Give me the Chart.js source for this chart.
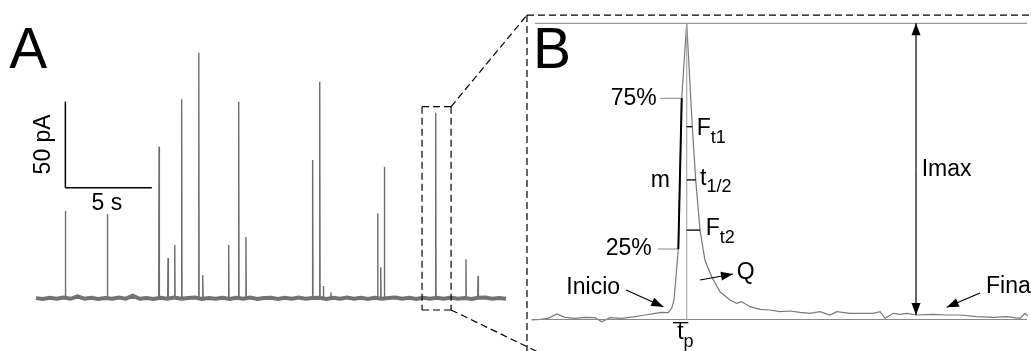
<!DOCTYPE html>
<html>
<head>
<meta charset="utf-8">
<script src="https://cdn.jsdelivr.net/npm/chart.js@4.4.1/dist/chart.umd.min.js"></script>
<style>
  html, body { margin: 0; padding: 0; background: #fff; }
  #wrap { width: 1031px; height: 351px; }
</style>
</head>
<body>
<div id="wrap"><canvas id="grafico" width="1031" height="351"></canvas></div>
<script>
// PANEL A: registro amperometrico (s, pA)
const tiemposEspigas = [1.70, 4.13, 7.12, 7.64, 8.03, 8.43, 9.42, 9.65, 11.15, 11.73, 12.15,
  16.01, 16.42, 16.63, 17.07, 19.77, 19.95, 20.16, 23.13, 24.88, 25.58];
const amplitudesEspigas = [50.8, 49.0, 88.1, 23.4, 31.0, 115.7, 142.8, 13.5, 31.0, 114.3, 35.6,
  80.4, 125.9, 7.2, 3.3, 49.4, 18.0, 76.5, 107.9, 22.7, 13.0];
const duracionRegistro = 27.2;
const ruidoBasal = [0.1, -0.4, 0.3, -0.2, 0.4, -0.3, 1.1, -0.2, 0.3, -0.4, 0.2, -0.3, 0.4, -0.2,
  1.5, -0.3, 0.2, -0.4, 0.3, -0.2, 0.4, -0.3, 0.2, 0.4, -0.4, 0.2, -0.3, 0.3, -0.4, 0.3, -0.2,
  0.4, -0.4, 0.2, 0.3, -0.4, 0.3, -0.2, 0.4, -0.3, 0.2, 0.3, -0.4, 0.3, -0.3, 0.4, -0.2, 0.3,
  -0.4, 0.3, -0.3, 0.2, 0.4, -0.3, 0.3, -0.4, 0.3, -0.2, 0.3, -0.3, 0.4, -0.3, 0.2, -0.4, 0.3,
  0.4, -0.3, 0.2, -0.3];

// PANEL B: espiga ampliada (ms, pA)
const tiempoEspigaB = [-0.7, 1.02, 2.70, 4.41, 6.10, 8.13, 10.16, 12.20, 13.56, 15.24, 17.62,
  20.33, 22.36, 24.39, 25.75, 27.09, 27.78, 28.25, 28.60, 29.13, 29.82, 30.83, 31.97, 32.66,
  33.54, 34.55, 35.91, 37.60, 39.63, 40.99, 42.01, 43.70, 45.73, 47.76, 49.80, 51.83, 53.86,
  55.89, 57.93, 59.96, 61.32, 64.02, 66.67, 68.76, 70.12, 71.14, 72.82, 74.19, 75.55, 77.58,
  80.96, 83.68, 86.38, 89.78, 93.15, 95.87, 98.58, 99.59, 100.2];
const corrienteEspigaB = [-0.18, 0.07, 0.44, 2.01, 0.80, 0.44, 0.80, 0.66, -0.80, 0.66, 0.44,
  1.02, 1.64, 2.26, 2.63, 2.48, 4.08, 7.11, 14.4, 25.7, 80.65, 108, 70.3, 50.9,
  32.6, 21.5, 15.6, 10.1, 7.11, 5.91, 6.49, 4.67, 3.72, 3.46, 2.84, 3.10, 2.63,
  2.26, 2.84, 1.64, 2.84, 2.26, 2.26, 2.26, 2.84, 0.44, 2.26, 1.90, 2.26, 1.64,
  1.90, 1.64, 1.64, 1.02, 0.80, 1.02, 0.44, 2.26, 1.28];
const imax = 108;
const niveles = { p25: 25.7, p75: 80.65, ft1: 70.3, tMedio: 50.9, ft2: 32.6 };
const tiempoPico = 30.83;

const FUENTE = '"Liberation Sans", Arial, sans-serif';

// CONSTRUIR SERIES
const serieBasal = ruidoBasal.map((v, i) => ({ x: i * duracionRegistro / (ruidoBasal.length - 1), y: v }));
const serieEspigas = [{ x: 0, y: 0 }];
tiemposEspigas.forEach((t, i) => {
  serieEspigas.push({ x: t - 0.02, y: 0 }, { x: t, y: amplitudesEspigas[i] }, { x: t + 0.02, y: 0 });
});
serieEspigas.push({ x: duracionRegistro, y: 0 });
const serieB = tiempoEspigaB.map((t, i) => ({ x: t, y: corrienteEspigaB[i] }));

// ANOTACIONES
const linea = (ctx, a, b, color, ancho, guiones) => {
  ctx.save();
  ctx.strokeStyle = color;
  ctx.lineWidth = ancho;
  ctx.setLineDash(guiones || []);
  ctx.beginPath();
  ctx.moveTo(a[0], a[1]);
  ctx.lineTo(b[0], b[1]);
  ctx.stroke();
  ctx.restore();
};
const flecha = (ctx, a, b) => {
  linea(ctx, a, b, '#000', 1.2);
  const ang = Math.atan2(b[1] - a[1], b[0] - a[0]);
  ctx.save();
  ctx.fillStyle = '#000';
  ctx.translate(b[0], b[1]);
  ctx.rotate(ang);
  ctx.beginPath();
  ctx.moveTo(0, 0);
  ctx.lineTo(-12, -4.5);
  ctx.lineTo(-12, 4.5);
  ctx.closePath();
  ctx.fill();
  ctx.restore();
};
const texto = (ctx, s, p, tam, alinear, sub, base) => {
  ctx.save();
  ctx.fillStyle = '#000';
  ctx.font = tam + 'px ' + FUENTE;
  ctx.textAlign = alinear || 'left';
  ctx.textBaseline = base || 'middle';
  ctx.fillText(s, p[0], p[1]);
  if (sub) {
    const w = ctx.measureText(s).width;
    ctx.font = Math.round(tam * 0.78) + 'px ' + FUENTE;
    ctx.textAlign = 'left';
    ctx.fillText(sub, p[0] + w, p[1] + tam * 0.4);
  }
  ctx.restore();
};

const anotaciones = {
  id: 'anotaciones',
  afterDatasetsDraw(chart) {
    const ctx = chart.ctx;
    const s = chart.scales;
    const pA = (t, i) => [s.x.getPixelForValue(t), s.y.getPixelForValue(i)];
    const pB = (t, i) => [s.xb.getPixelForValue(t), s.yb.getPixelForValue(i)];
    const dash = [7, 4];

    // panel A
    texto(ctx, 'A', pA(-1.55, 133.9), 57, 'left', null, 'alphabetic');
    linea(ctx, pA(1.70, 114.3), pA(1.70, 64.3), '#000', 1.5);
    linea(ctx, pA(1.70, 64.3), pA(6.70, 64.3), '#000', 1.5);
    texto(ctx, '5 s', pA(4.1, 55.2), 23, 'center');
    ctx.save();
    const pv = pA(0.42, 89.5);
    ctx.translate(pv[0], pv[1]);
    ctx.rotate(-Math.PI / 2);
    texto(ctx, '50 pA', [0, 0], 23, 'center');
    ctx.restore();

    // caja de ampliacion
    const x0 = 22.34, x1 = 24.02, y0 = -6.8, y1 = 111.4;
    linea(ctx, pA(x0, y1), pA(x1, y1), '#000', 1.2, dash);
    linea(ctx, pA(x0, y0), pA(x1, y0), '#000', 1.2, dash);
    linea(ctx, pA(x0, y1), pA(x0, y0), '#000', 1.2, dash);
    linea(ctx, pA(x1, y1), pA(x1, y0), '#000', 1.2, dash);
    linea(ctx, pA(x1, y1), pB(-1.63, 111.0), '#000', 1.2, dash);
    linea(ctx, pA(x1, y0), pB(2.2, -13.2), '#000', 1.2, dash);
    linea(ctx, pB(-1.63, 111.0), pB(102, 111.0), '#000', 1.2, dash);
    linea(ctx, pB(-1.63, 111.0), pB(-1.63, -13.5), '#000', 1.2, dash);

    // panel B
    texto(ctx, 'B', pB(-0.4, 91.7), 57, 'left', null, 'alphabetic');
    linea(ctx, pB(0, imax), pB(100, imax), '#999', 1.2);
    linea(ctx, pB(-0.7, 0), pB(100, 0), '#888', 1.2);
    linea(ctx, pB(tiempoPico, imax), pB(tiempoPico, -0.2), '#aaa', 1.2);

    linea(ctx, pB(25.41, niveles.p75), pB(30.0, niveles.p75), '#999', 1.2);
    linea(ctx, pB(25.0, niveles.p25), pB(29.13, niveles.p25), '#999', 1.2);
    linea(ctx, pB(29.13, niveles.p25), pB(29.82, niveles.p75), '#000', 2);
    texto(ctx, '75%', pB(24.73, niveles.p75), 23, 'right');
    texto(ctx, '25%', pB(23.72, niveles.p25), 23, 'right');
    texto(ctx, 'm', pB(23.5, 50.5), 23, 'left');

    linea(ctx, pB(tiempoPico, niveles.ft1), pB(31.97, niveles.ft1), '#000', 1.3);
    linea(ctx, pB(tiempoPico, niveles.tMedio), pB(32.66, niveles.tMedio), '#000', 1.3);
    linea(ctx, pB(tiempoPico, niveles.ft2), pB(33.54, niveles.ft2), '#000', 1.3);
    texto(ctx, 'F', pB(32.87, 69.5), 23, 'left', 't1');
    texto(ctx, 't', pB(33.54, 51.5), 23, 'left', '1/2');
    texto(ctx, 'F', pB(34.70, 33.0), 23, 'left', 't2');

    linea(ctx, pB(28.05, -1.17), pB(31.16, -1.17), '#000', 1.3);
    texto(ctx, 't', pB(28.9, -4.9), 23, 'left', 'p');

    flecha(ctx, pB(18.50, 10.76), pB(26.08, 4.67));
    texto(ctx, 'Inicio', pB(17.28, 11.6), 23, 'right');
    flecha(ctx, pB(33.54, 14.4), pB(40.24, 16.6));
    texto(ctx, 'Q', pB(41.0, 17.0), 23, 'left');
    flecha(ctx, pB(90.45, 9.66), pB(83.68, 4.45));
    texto(ctx, 'Final', pB(91.67, 12.1), 23, 'left');

    const ia = pB(77.44, 1.6), ib = pB(77.44, imax);
    flecha(ctx, [ia[0], (ia[1] + ib[1]) / 2], ia);
    flecha(ctx, [ib[0], (ia[1] + ib[1]) / 2], ib);
    texto(ctx, 'Imax', pB(78.6, 54.5), 23, 'left');
  }
};

new Chart(document.getElementById('grafico'), {
  type: 'line',
  data: {
    datasets: [
      { data: serieBasal, xAxisID: 'x', yAxisID: 'y', borderColor: '#727272', borderWidth: 4 },
      { data: serieEspigas, xAxisID: 'x', yAxisID: 'y', borderColor: '#6e6e6e', borderWidth: 1.4 },
      { data: serieB, xAxisID: 'xb', yAxisID: 'yb', borderColor: '#7a7a7a', borderWidth: 1.2 }
    ]
  },
  options: {
    responsive: false,
    animation: false,
    layout: { padding: 0 },
    elements: { point: { radius: 0 }, line: { tension: 0, fill: false } },
    plugins: { legend: { display: false }, tooltip: { enabled: false } },
    scales: {
      x: { type: 'linear', min: -2.0833, max: 57.58, display: false },
      y: { type: 'linear', min: -30.64, max: 173.43, display: false },
      xb: { type: 'linear', axis: 'x', min: -108.74, max: 100.81, display: false },
      yb: { type: 'linear', axis: 'y', min: -11.486, max: 116.5, display: false }
    }
  },
  plugins: [anotaciones]
});
</script>
</body>
</html>
